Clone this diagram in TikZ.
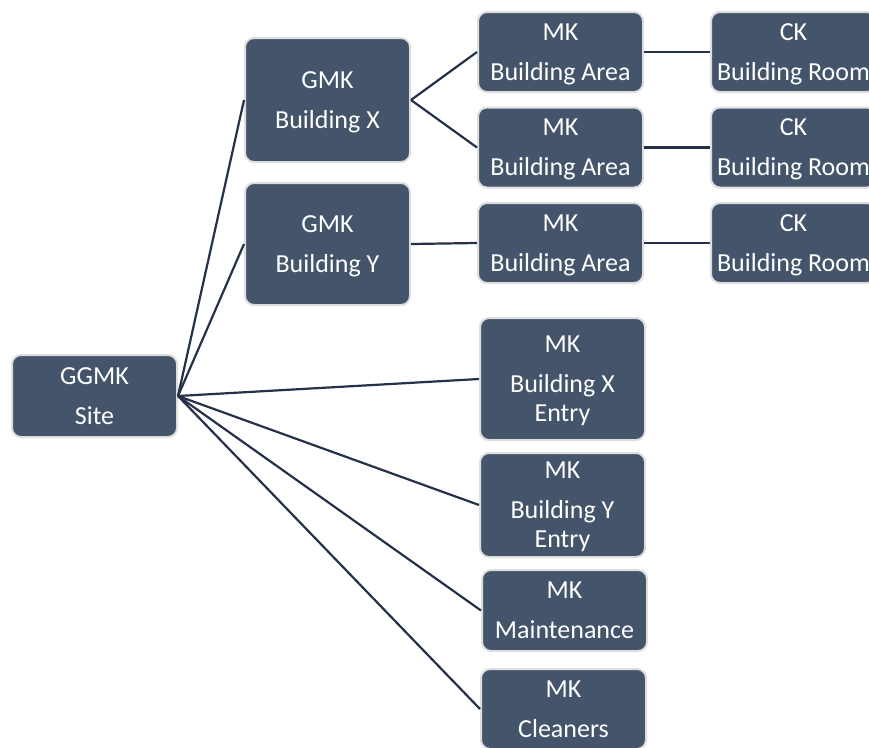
\documentclass[tikz,border=0pt]{standalone}
\usepackage{fontspec}
\setmainfont{Carlito}
\usetikzlibrary{positioning,calc}
\definecolor{keyfill}{RGB}{68,84,106}
\definecolor{keyedge}{RGB}{222,222,222}
\definecolor{keylink}{RGB}{36,49,72}

\begin{document}
\begin{tikzpicture}[
    x=1pt, y=-1pt,
    keybox/.style={rectangle, rounded corners=9pt, draw=keyedge, line width=2pt,
        fill=keyfill, text=white, minimum width=165pt, minimum height=80pt,
        align=center, inner sep=2pt, font=\fontsize{26}{29}\selectfont,
        text depth=0pt},
    keylink/.style={draw=keylink, line width=2.2pt}
]
\useasboundingbox (0,0) rectangle (869,747);
\clip (0,0) rectangle (869,747);

% Key hierarchy
\node[keybox, minimum height=82pt] (site) at (94.5,396) {GGMK\\[11pt]Site};

\node[keybox, minimum height=124pt] (bldx) at (327.5,100) {GMK\\[11pt]Building X};
\node[keybox, minimum height=122pt] (bldy) at (327.5,244) {GMK\\[11pt]Building Y};

\node[keybox] (areaa) at (560.5,52) {MK\\[11pt]Building Area};
\node[keybox] (areab) at (560.5,147.5) {MK\\[11pt]Building Area};
\node[keybox] (areac) at (560.5,243) {MK\\[11pt]Building Area};

\node[keybox] (rooma) at (793.5,52) {CK\\[11pt]Building Room};
\node[keybox] (roomb) at (793.5,147.5) {CK\\[11pt]Building Room};
\node[keybox] (roomc) at (793.5,243) {CK\\[11pt]Building Room};

\node[keybox, minimum height=122pt] (entryx) at (562.5,379) {MK\\[11pt]Building X\\Entry};
\node[keybox, minimum height=104pt] (entryy) at (562.5,505) {MK\\[11pt]Building Y\\Entry};
\node[keybox, minimum height=81pt] (maint) at (564.5,610.5) {MK\\[11pt]Maintenance};
\node[keybox] (clean) at (563.5,709) {MK\\[11pt]Cleaners};

% Connectors
\foreach \n in {bldx,bldy,entryx,entryy,maint,clean}
    \draw[keylink] (site.east) -- (\n.west);
\draw[keylink] (bldx.east) -- (areaa.west);
\draw[keylink] (bldx.east) -- (areab.west);
\draw[keylink] (bldy.east) -- (areac.west);
\draw[keylink] (areaa.east) -- (rooma.west);
\draw[keylink] (areab.east) -- (roomb.west);
\draw[keylink] (areac.east) -- (roomc.west);

\end{tikzpicture}
\end{document}
